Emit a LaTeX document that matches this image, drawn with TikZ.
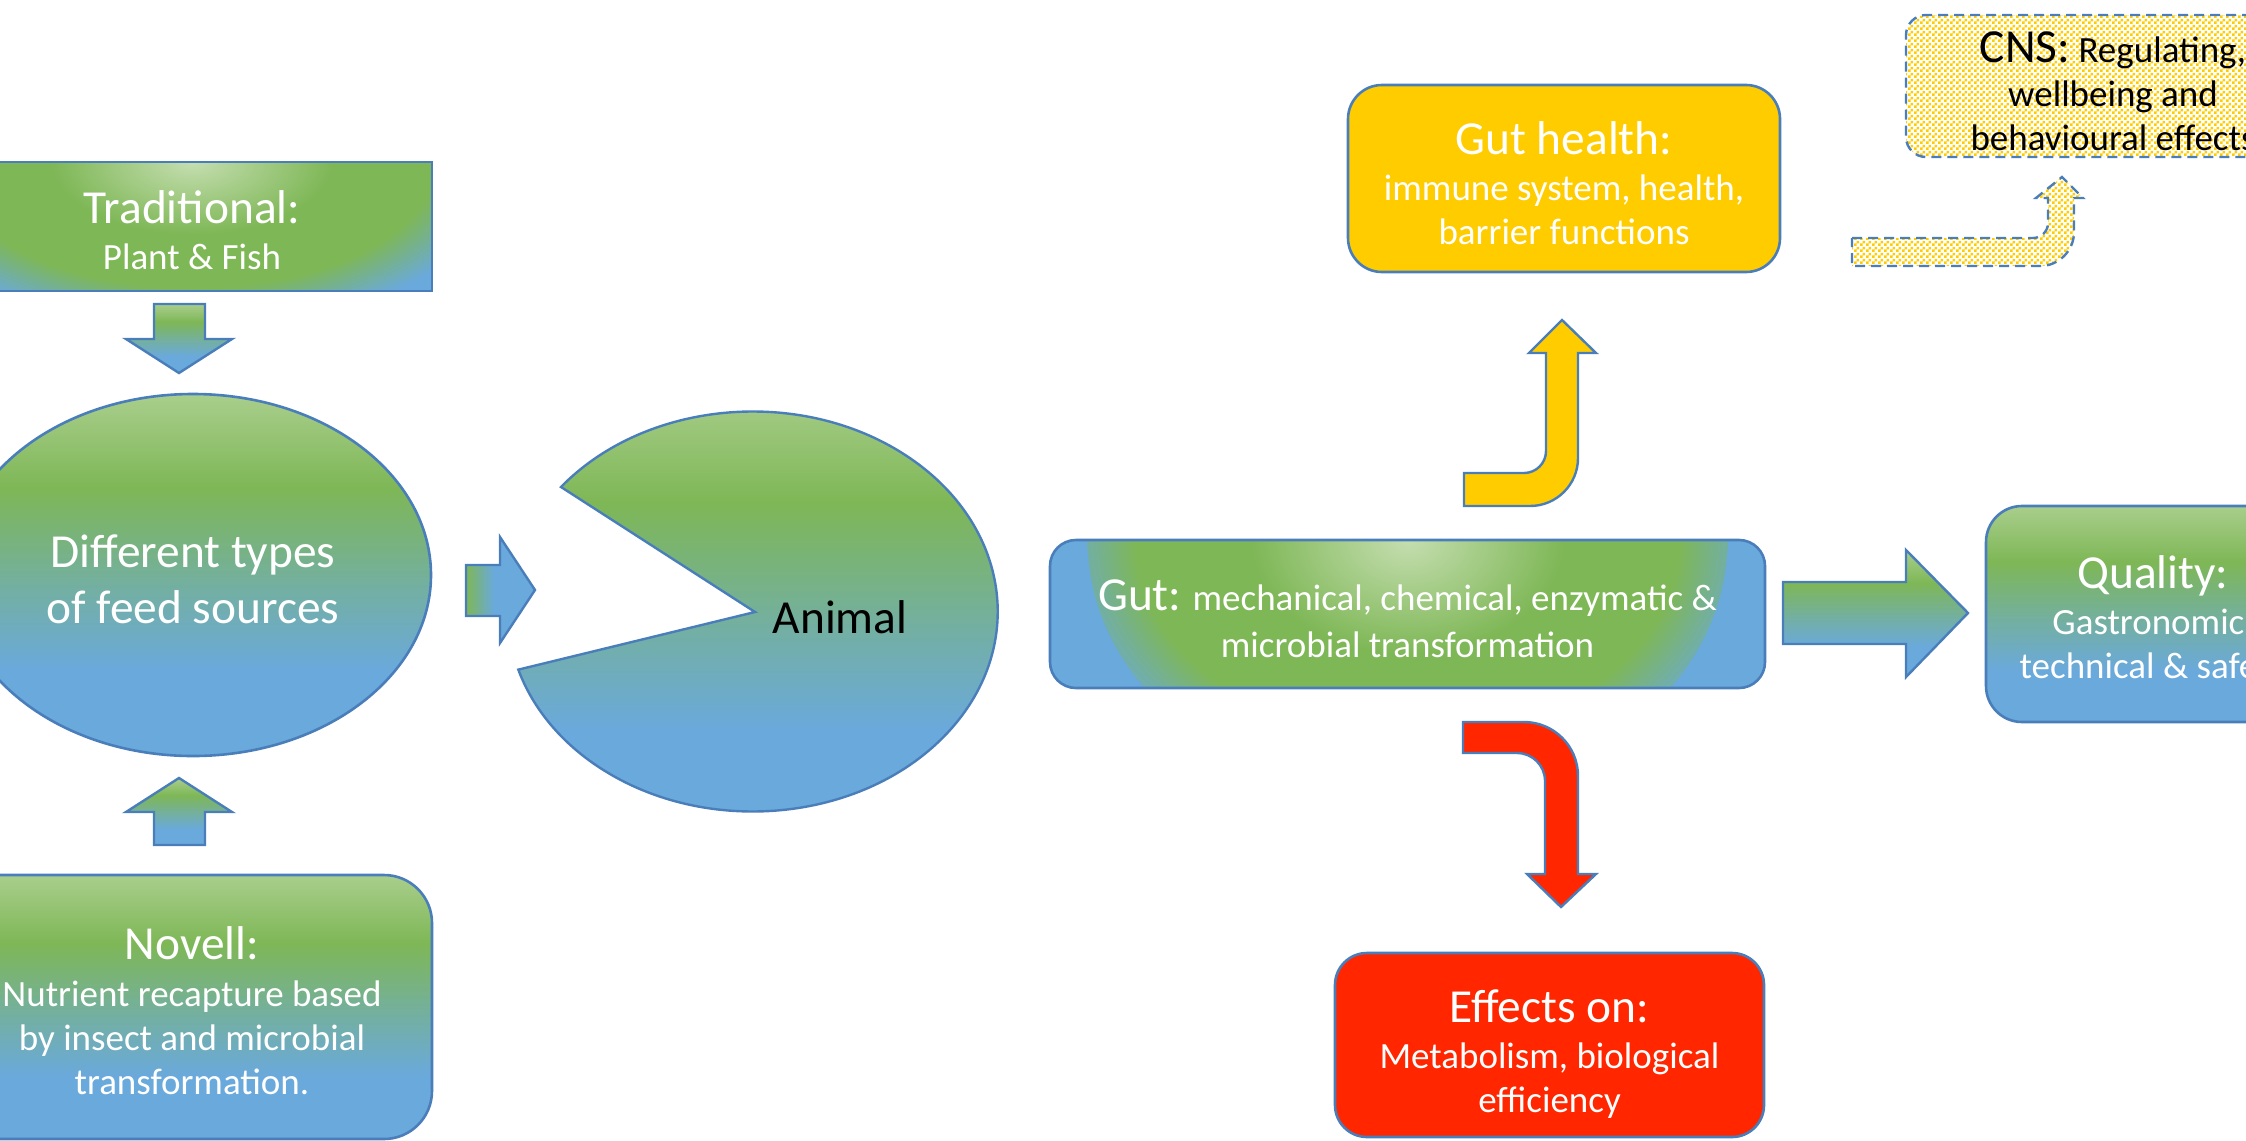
\documentclass[tikz,border=0pt]{standalone}
\usepackage{fontspec}
\setmainfont{Carlito}
\usetikzlibrary{shapes.geometric,patterns}

\definecolor{feedblue}{HTML}{6AA9DB}
\definecolor{feedgreen}{HTML}{7EB756}
\definecolor{feedteal}{HTML}{73AFA3}
\definecolor{feedlight}{HTML}{A9CE8C}
\definecolor{feedpale}{HTML}{C5DEB0}
\definecolor{edgeblue}{HTML}{4A7EBB}
\definecolor{healthyellow}{HTML}{FFCC00}
\definecolor{effectred}{HTML}{FF2600}

\pgfdeclareverticalshading{feedshade}{100bp}{color(0bp)=(feedblue); color(37bp)=(feedblue); color(48bp)=(feedteal); color(62bp)=(feedgreen); color(75bp)=(feedlight); color(100bp)=(feedlight)}
\pgfdeclareradialshading{glowshade}{\pgfpoint{0bp}{0bp}}{color(0bp)=(feedpale); color(11bp)=(feedgreen); color(19bp)=(feedgreen); color(25bp)=(feedblue); color(50bp)=(feedblue)}
\pgfdeclarehorizontalshading{pushshade}{100bp}{color(0bp)=(feedgreen); color(25bp)=(feedgreen); color(45bp)=(feedblue); color(100bp)=(feedblue)}
\pgfdeclarepatternformonly{cnschecks}{\pgfpointorigin}{\pgfqpoint{3pt}{3pt}}{\pgfqpoint{3pt}{3pt}}{\pgfpathrectangle{\pgfpointorigin}{\pgfqpoint{1.5pt}{1.5pt}}\pgfpathrectangle{\pgfqpoint{1.5pt}{1.5pt}}{\pgfqpoint{1.5pt}{1.5pt}}\pgfusepath{fill}}

\newcommand\titlefont{\fontsize{23.7}{28}\selectfont}
\newcommand\subfont{\fontsize{18.5}{22}\selectfont}
\newcommand\topstrut[1]{\rule{0pt}{#1}}

\begin{document}
\begin{tikzpicture}[x=0.5pt,y=-0.5pt,
  box/.style={draw=edgeblue,line width=1.3pt,text=white,align=center,inner sep=0pt,font=\subfont},
  feed/.style={shade,shading=feedshade},
  glow/.style 2 args={fill=feedblue,path picture={\shade[shading=glowshade] (path picture bounding box.north) ellipse[x radius=#1,y radius=#2];}},
  blockarrow/.style={draw=edgeblue,line width=1.2pt},
  cnsline/.style={draw=edgeblue,line width=1.2pt,dash pattern=on 5pt off 3pt}]
\useasboundingbox (0,0) rectangle (2246,1140);
% feed sources
\node[box,glow={320}{165},minimum width=240pt,minimum height=64.5pt] (trad) at (192,226.5) {\topstrut{19.9pt}{\titlefont Traditional:}\\[1pt]Plant \& Fish};
\node[box,feed,ellipse,minimum width=238pt,minimum height=181pt,font=\fontsize{23.7}{28}\selectfont] (feed) at (193,575) {\topstrut{20.6pt}Different types\\of feed sources};
\node[box,feed,rounded corners=24pt,minimum width=240pt,minimum height=132pt] (novell) at (192,1007) {\topstrut{19.7pt}{\titlefont Novell:}\\[1.5pt]Nutrient recapture based\\by insect and microbial\\transformation.};
\draw[blockarrow,feed] (154,304) -- (205,304) -- (205,339) -- (232,339) -- (179,373) -- (126,339) -- (154,339) -- cycle;
\draw[blockarrow,feed] (154,845) -- (205,845) -- (205,812) -- (232,812) -- (179,778) -- (126,812) -- (154,812) -- cycle;
\draw[blockarrow,shade,shading=pushshade] (466,565) -- (500,565) -- (500,537) -- (535,590) -- (500,643) -- (500,616) -- (466,616) -- cycle;
% animal
\draw[blockarrow,feed] (755,612) -- (561,487) arc[start angle=218.5,end angle=523.1,x radius=245,y radius=200] -- cycle;
\node[font=\titlefont] (animal) at (840,617) {Animal};
% gut and outcomes
\node[box,glow={320}{260},rounded corners=13pt,minimum width=357.5pt,minimum height=74pt] (gut) at (1407.5,614) {\topstrut{20.6pt}{\titlefont Gut:} mechanical, chemical, enzymatic \&\\[1.5pt]microbial transformation};
\node[box,fill=healthyellow,rounded corners=17pt,minimum width=216pt,minimum height=93.5pt] (health) at (1564,178.5) {\topstrut{21.6pt}{\titlefont Gut health:}\\[1pt]immune system, health,\\barrier functions};
\node[box,fill=effectred,rounded corners=16pt,minimum width=214.5pt,minimum height=92pt] (effects) at (1549.5,1045) {\topstrut{25pt}{\titlefont Effects on:}\\[1pt]Metabolism, biological\\efficiency};
\node[box,feed,rounded corners=18pt,minimum width=167pt,minimum height=108pt] (quality) at (2153,614) {\topstrut{22.8pt}{\titlefont Quality:}\\[1pt]Gastronomic,\\technical \& safety};
\node[box,cnsline,pattern=cnschecks,pattern color=healthyellow,text=black,rounded corners=10pt,minimum width=207pt,minimum height=71pt] (cns) at (2113,86) {\topstrut{21pt}{\titlefont CNS:} Regulating,\\wellbeing and\\behavioural effects};
\draw[blockarrow,feed] (1783,582) -- (1906,582) -- (1906,550) -- (1968,613) -- (1906,677) -- (1906,644) -- (1783,644) -- cycle;
\draw[blockarrow,fill=healthyellow] (1464,473) -- (1524,473) arc[start angle=90,end angle=0,radius=22] -- (1546,353) -- (1529,353) -- (1562,320) -- (1596,353) -- (1578,353) -- (1578,458) arc[start angle=0,end angle=90,radius=48] -- (1464,506) -- cycle;
\draw[blockarrow,fill=effectred] (1463,722) -- (1524,722) arc[start angle=270,end angle=360,radius=54] -- (1578,874) -- (1596,874) -- (1561,907) -- (1527,874) -- (1545,874) -- (1545,781) arc[start angle=0,end angle=-90,radius=28] -- (1463,753) -- cycle;
\draw[cnsline,pattern=cnschecks,pattern color=healthyellow] (1852,238) -- (2033,238) arc[start angle=90,end angle=0,radius=15] -- (2048,198) -- (2036,198) -- (2062,177) -- (2083,198) -- (2074,198) -- (2074,232) arc[start angle=0,end angle=90,radius=34] -- (1852,266) -- cycle;
\end{tikzpicture}
\end{document}
